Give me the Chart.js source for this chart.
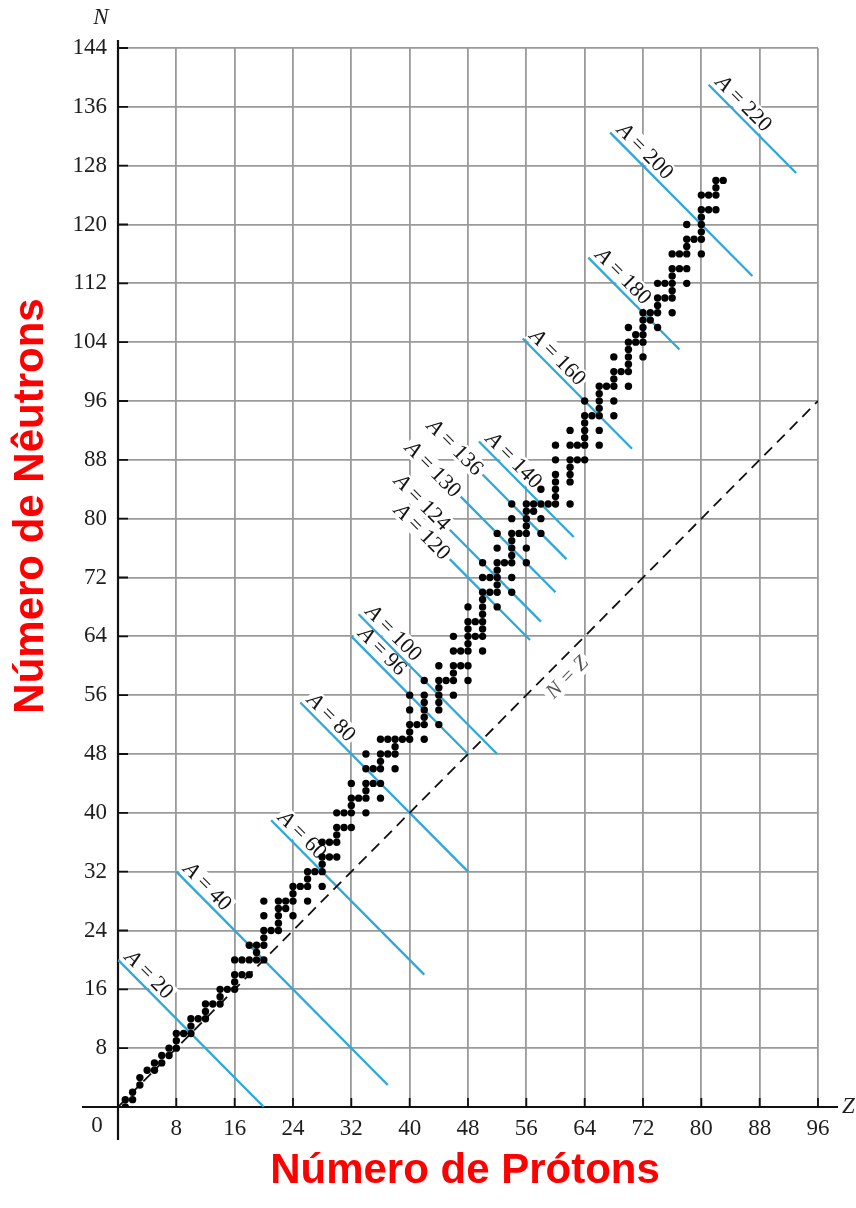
<!DOCTYPE html>
<html><head><meta charset="utf-8">
<script src="https://cdn.jsdelivr.net/npm/chart.js@4/dist/chart.umd.min.js"></script>
<style>html,body{margin:0;padding:0;background:#fff}#wrap{width:856px;height:1208px}</style>
</head><body><div id="wrap"><canvas id="c" width="856" height="1208"></canvas></div>
<script>
// ---- data ----
const xTicks = [0, 8, 16, 24, 32, 40, 48, 56, 64, 72, 80, 88, 96];
const yTicks = [0, 8, 16, 24, 32, 40, 48, 56, 64, 72, 80, 88, 96, 104, 112, 120, 128, 136, 144];
// neutron numbers of the plotted nuclides, one list per proton number Z = 1..83
const neutronsByZ = [
  [0,1],[1,2],[3,4],[5],[5,6],[6,7],[7,8],[8,9,10],[10],[10,11,12],
  [12],[12,13,14],[14],[14,15,16],[16],[16,17,18,20],[18,20],[18,20,22],[20,21,22],[20,22,23,24,26,28],
  [24],[24,25,26,27,28],[27,28],[26,28,29,30],[30],[28,30,31,32],[32],[30,32,33,34,36],[34,36],[34,36,37,38,40],
  [38,40],[38,40,41,42,44],[42],[40,42,43,44,46,48],[44,46],[42,44,46,47,48,50],[48,50],[46,48,49,50],[50],[50,51,52,54,56],
  [52],[50,52,53,54,55,56,58],[],[52,54,55,56,57,58,60],[58],[56,58,59,60,62,64],[60,62],[58,60,62,63,64,65,66,68],[64,66],[62,64,65,66,67,68,69,70,72,74],
  [70,72],[68,70,71,72,73,74,76,78],[74],[70,72,74,75,76,77,78,80,82],[78],[74,76,78,79,80,81,82],[81,82],[78,80,82,84],[82],[82,83,84,85,86,88,90],
  [],[82,85,86,87,88,90,92],[88,90],[88,90,91,92,93,94,96],[94],[90,92,94,95,96,97,98],[98],[94,96,98,99,100,102],[100],[98,100,101,102,103,104,106],
  [104,105],[102,104,105,106,107,108],[107,108],[106,108,109,110,112],[110,112],[108,110,111,112,113,114,116],[114,116],[112,114,116,117,118,120],[118],[116,118,119,120,121,122,124],
  [122,124],[122,124,125,126],[126]
];
// isobar lines A = Z + N, drawn between Z start and Z end
const isobarA      = [20, 40, 60, 80, 96, 100, 120, 124, 130, 136, 140, 160, 180, 200, 220];
const isobarZStart = [0, 8, 21, 25, 32, 33, 45.5, 45.5, 47, 50, 49.5, 55.5, 64.5, 67.5, 81];
const isobarZEnd   = [20, 37, 42, 48, 48, 52, 56.5, 58, 60, 61.5, 62.5, 70.5, 77, 87, 93];
const labelBeforeStart = [120, 124, 130, 136];
const diagonalZ = [0, 96];

// ---- build datasets ----
const nuclidePoints = [];
neutronsByZ.forEach((ns, i) => ns.forEach(n => nuclidePoints.push({x: i + 1, y: n})));

const datasets = [{
  data: nuclidePoints, pointRadius: 3.7, pointBackgroundColor: '#000', pointBorderWidth: 0,
  showLine: false, order: 0
}];
isobarA.forEach((a, i) => {
  datasets.push({
    data: [{x: isobarZStart[i], y: a - isobarZStart[i]}, {x: isobarZEnd[i], y: a - isobarZEnd[i]}],
    showLine: true, borderColor: '#2ea7da', borderWidth: 2.3, pointRadius: 0, order: 2
  });
});
datasets.push({
  data: diagonalZ.map(z => ({x: z, y: z})), showLine: true, borderColor: '#111',
  borderWidth: 1.8, borderDash: [11, 7], pointRadius: 0, order: 1
});

const serif = '"Liberation Serif", "DejaVu Serif", serif';

const annot = {
  id: 'annot',
  beforeDatasetsDraw(chart) {
    const ctx = chart.ctx, xs = chart.scales.x, ys = chart.scales.y;
    ctx.save();
    const fs = 22;
    isobarA.forEach((a, i) => {
      const z0 = isobarZStart[i], z1 = isobarZEnd[i];
      const p0x = xs.getPixelForValue(z0), p0y = ys.getPixelForValue(a - z0);
      const p1x = xs.getPixelForValue(z1), p1y = ys.getPixelForValue(a - z1);
      const ang = Math.atan2(p1y - p0y, p1x - p0x);
      ctx.save();
      ctx.translate(p0x, p0y);
      ctx.rotate(ang);
      ctx.font = 'italic ' + fs + 'px ' + serif;
      const wA = ctx.measureText('A').width;
      ctx.font = fs + 'px ' + serif;
      const rest = ' = ' + a;
      const wR = ctx.measureText(rest).width;
      const w = wA + wR;
      let x0, y0;
      if (labelBeforeStart.includes(a)) { x0 = -w - 4; y0 = 0; }
      else { x0 = 3; y0 = -12; }
      ctx.fillStyle = '#fff';
      ctx.fillRect(x0 - 2, y0 - 10, w + 4, 20);
      ctx.fillStyle = '#151515';
      ctx.textBaseline = 'middle';
      ctx.textAlign = 'left';
      ctx.font = 'italic ' + fs + 'px ' + serif;
      ctx.fillText('A', x0, y0 + 1);
      ctx.font = fs + 'px ' + serif;
      ctx.fillText(rest, x0 + wA, y0 + 1);
      ctx.restore();
    });
    // N = Z label
    {
      const px = xs.getPixelForValue(60), py = ys.getPixelForValue(60);
      const qx = xs.getPixelForValue(96), qy = ys.getPixelForValue(96);
      const ang = Math.atan2(qy - py, qx - px);
      ctx.save();
      ctx.translate(px, py);
      ctx.rotate(ang);
      ctx.font = 'italic 21px ' + serif;
      const t = 'N = Z';
      const w = ctx.measureText(t).width;
      ctx.fillStyle = '#fff';
      ctx.fillRect(-w / 2 - 3, 8, w + 6, 19);
      ctx.fillStyle = '#555';
      ctx.textAlign = 'center';
      ctx.textBaseline = 'middle';
      ctx.fillText(t, 0, 17);
      ctx.restore();
    }
    // axes
    const ox = xs.getPixelForValue(0), oy = ys.getPixelForValue(0);
    ctx.strokeStyle = '#111';
    ctx.lineWidth = 2.2;
    ctx.beginPath();
    ctx.moveTo(ox, ys.getPixelForValue(144) - 8); ctx.lineTo(ox, oy + 33);
    ctx.moveTo(ox - 36, oy); ctx.lineTo(xs.getPixelForValue(96) + 20, oy);
    ctx.stroke();
    ctx.lineWidth = 1.8;
    ctx.beginPath();
    xTicks.forEach(v => { if (v > 0) { const x = xs.getPixelForValue(v); ctx.moveTo(x, oy); ctx.lineTo(x, oy - 9); } });
    yTicks.forEach(v => { if (v > 0) { const y = ys.getPixelForValue(v); ctx.moveTo(ox, y); ctx.lineTo(ox + 10, y); } });
    ctx.stroke();
    // texts
    ctx.fillStyle = '#1e1e1e';
    ctx.font = '23px ' + serif;
    ctx.textAlign = 'center';
    ctx.textBaseline = 'middle';
    ctx.fillText('0', ox - 21, oy + 19);
    ctx.font = 'italic 23px ' + serif;
    ctx.fillText('N', ox - 17, 18);
    ctx.textAlign = 'left';
    ctx.fillText('Z', xs.getPixelForValue(96) + 24, oy);
    // axis titles
    ctx.fillStyle = '#ff0000';
    ctx.font = 'bold 42px "Liberation Sans", Arial, sans-serif';
    ctx.textAlign = 'center';
    ctx.textBaseline = 'alphabetic';
    ctx.fillText('Número de Prótons', 465, 1183);
    ctx.save();
    ctx.translate(43, 506);
    ctx.rotate(-Math.PI / 2);
    ctx.fillText('Número de Nêutrons', 0, 0);
    ctx.restore();
    ctx.restore();
  }
};

new Chart(document.getElementById('c'), {
  type: 'scatter',
  data: {datasets},
  options: {
    responsive: false, animation: false,
    layout: {padding: {top: 48, right: 38, left: 0, bottom: 0}},
    plugins: {legend: {display: false}, tooltip: {enabled: false}},
    scales: {
      x: {
        type: 'linear', min: 0, max: 96,
        afterBuildTicks: s => { s.ticks = xTicks.map(v => ({value: v})); },
        grid: {color: '#9a9a9a', lineWidth: 1.8, drawTicks: false},
        border: {display: false},
        ticks: {padding: 8, color: '#1e1e1e', font: {family: serif, size: 23}, maxRotation: 0, autoSkip: false,
                callback: v => v === 0 ? '' : v},
        afterFit: s => { s.height = 1208 - 1107; }
      },
      y: {
        type: 'linear', min: 0, max: 144,
        afterBuildTicks: s => { s.ticks = yTicks.map(v => ({value: v})); },
        grid: {color: '#9a9a9a', lineWidth: 1.8, drawTicks: false},
        border: {display: false},
        ticks: {padding: 11, color: '#1e1e1e', font: {family: serif, size: 23}, autoSkip: false,
                callback: v => v === 0 ? '' : v},
        afterFit: s => { s.width = 118; }
      }
    }
  },
  plugins: [annot]
});
</script>
</body></html>
